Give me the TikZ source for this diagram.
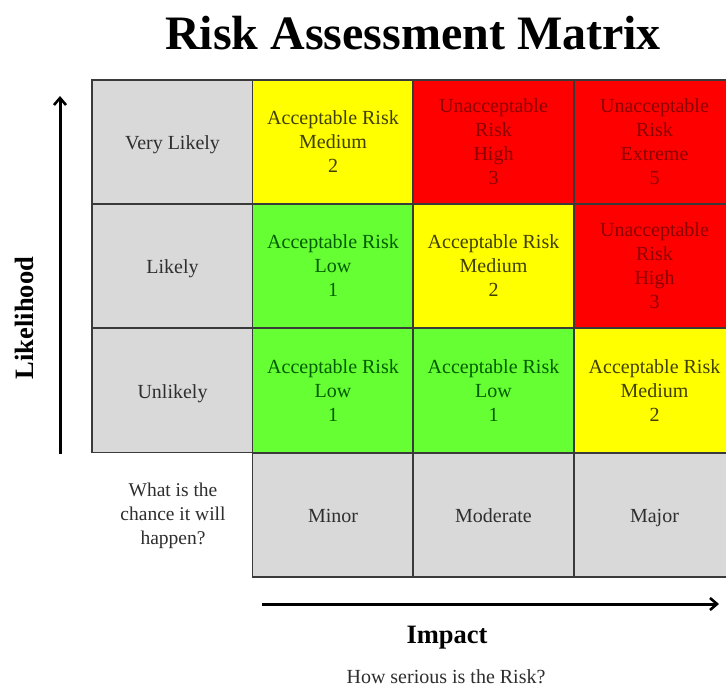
\documentclass[tikz,border=0pt]{standalone}
\usepackage{fontspec}
\setmainfont{Liberation Serif}
\usetikzlibrary{arrows.meta}
\definecolor{cgray}{HTML}{D9D9D9}
\definecolor{cyel}{HTML}{FFFF00}
\definecolor{cred}{HTML}{FF0000}
\definecolor{cgreen}{HTML}{66FF33}
\definecolor{tgray}{HTML}{2E2E2E}
\definecolor{tyel}{HTML}{404000}
\definecolor{tgreen}{HTML}{005C00}
\definecolor{tred}{HTML}{8C0000}
\definecolor{bord}{HTML}{3A3A3A}
\newcommand{\mycellstrut}{\rule[-4.4pt]{0pt}{24.4pt}}
\tikzset{
  cell/.style={draw=bord, line width=1.2pt, minimum width=161pt, minimum height=124pt,
    inner sep=0pt, align=center, font=\fontsize{20pt}{24pt}\selectfont},
  graycell/.style={cell, fill=cgray, text=tgray},
  yelcell/.style={cell, fill=cyel, text=tyel},
  greencell/.style={cell, fill=cgreen, text=tgreen},
  redcell/.style={cell, fill=cred, text=tred},
  axisarrow/.style={line width=3pt, -{Straight Barb[length=7pt,width=12pt,line width=2.6pt]}},
}
\begin{document}
\begin{tikzpicture}[x=1pt,y=-1pt]
\useasboundingbox[fill=white] (0,0) rectangle (726,688);
\begin{scope}
\clip (0,0) rectangle (726,688);
% row 1
\node[graycell] (vl) at (172.5,142) {\mycellstrut Very Likely};
\node[yelcell] (c12) at (333,142) {Acceptable Risk\\Medium\\2};
\node[redcell] (c13) at (493.5,142) {Unacceptable\\Risk\\High\\3};
\node[redcell] (c14) at (654.5,142) {Unacceptable\\Risk\\Extreme\\5};
% row 2
\node[graycell] (li) at (172.5,266) {\mycellstrut Likely};
\node[greencell] (c22) at (333,266) {Acceptable Risk\\Low\\1};
\node[yelcell] (c23) at (493.5,266) {Acceptable Risk\\Medium\\2};
\node[redcell] (c24) at (654.5,266) {Unacceptable\\Risk\\High\\3};
% row 3
\node[graycell] (ul) at (172.5,390.5) {\mycellstrut Unlikely};
\node[greencell] (c32) at (333,390.5) {Acceptable Risk\\Low\\1};
\node[greencell] (c33) at (493.5,390.5) {Acceptable Risk\\Low\\1};
\node[yelcell] (c34) at (654.5,390.5) {Acceptable Risk\\Medium\\2};
% impact row
\node[graycell] (mi) at (333,515) {\mycellstrut Minor};
\node[graycell] (mo) at (493.5,515) {\mycellstrut Moderate};
\node[graycell] (ma) at (654.5,515) {\mycellstrut Major};
\end{scope}
\node[align=center, font=\fontsize{19.5pt}{24pt}\selectfont, text=tgray] (q) at (173,516) {What is the\\chance it will\\happen?};
\node[font=\fontsize{48pt}{52pt}\selectfont\bfseries] (title) at (413,33) {Risk Assessment Matrix};
\node[rotate=90, font=\fontsize{26.5pt}{30pt}\selectfont\bfseries] (lik) at (24,318) {Likelihood};
\node[font=\fontsize{26.5pt}{30pt}\selectfont\bfseries] (imp) at (447,638) {Impact};
\node[font=\fontsize{20pt}{22pt}\selectfont, text=tgray] (how) at (446,677) {How serious is the Risk?};
\coordinate (vs) at (60,454);
\coordinate (ve) at (60,96);
\coordinate (hs) at (262,604);
\coordinate (he) at (719,604);
\draw[axisarrow] (vs) -- (ve);
\draw[axisarrow] (hs) -- (he);
\end{tikzpicture}
\end{document}
